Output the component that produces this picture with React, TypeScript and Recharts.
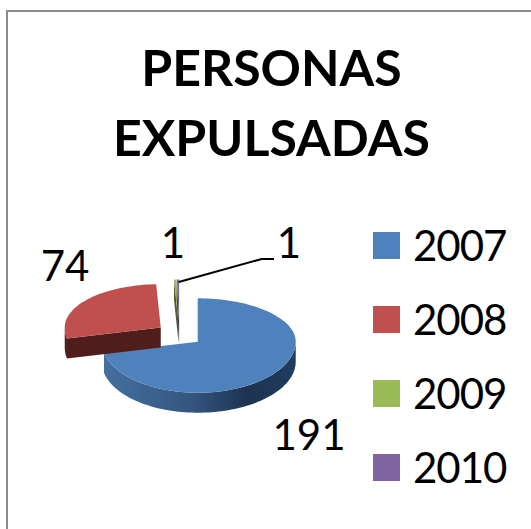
import { PieChart, Pie, Legend } from "recharts";

const years = ["2007", "2008", "2009", "2010"];
const persons = [191, 74, 1, 1];
const colors = ["#4f81bd", "#c0504d", "#9bbb59", "#8064a2"];
const sideColors = ["url(#blueWall)", "#4f1e1c", "#4e5d2c", "#40315a"];

const data = years.map((year, i) => ({ name: year, value: persons[i], fill: colors[i], side: sideColors[i] }));

const WIDTH = 531;
const HEIGHT = 529;
const FONT = "Lato, Carlito, sans-serif";

// fake 3D: the pie is squashed, so back and front radii differ a bit
const BACK_RY = 43.4;
const FRONT_RY = 51;
const SKEW_X = 1;
const DEPTH = 20;
const EXPLODE = 23.5;
const SQUASH = 0.49;

const labelSpots = [
  { x: 309, y: 450 },
  { x: 65, y: 281 },
  { x: 173, y: 258 },
  { x: 289, y: 258 },
];

const rad = (d: number) => (d * Math.PI) / 180;

function rimPoint(ax: number, ay: number, rx: number, theta: number) {
  const s = Math.sin(rad(theta));
  const c = Math.cos(rad(theta));
  return {
    x: ax + rx * s + SKEW_X * s * s,
    y: ay - c * (c > 0 ? BACK_RY : FRONT_RY),
  };
}

function PieSlice(props: any) {
  const { cx, cy, outerRadius, startAngle, endAngle, fill, payload } = props;
  // recharts angles run counter-clockwise from 3 o'clock, here clockwise from 12
  const from = 90 - startAngle;
  const to = 90 - endAngle;
  const mid = rad((from + to) / 2);
  const ax = cx + EXPLODE * Math.sin(mid);
  const ay = cy - EXPLODE * SQUASH * Math.cos(mid);

  const rim = (a: number, b: number) => {
    const pts = [];
    const steps = Math.max(2, Math.ceil(Math.abs(b - a) / 2));
    for (let i = 0; i <= steps; i++) {
      pts.push(rimPoint(ax, ay, outerRadius, a + ((b - a) * i) / steps));
    }
    return pts;
  };
  const toPath = (pts: { x: number; y: number }[]) =>
    pts.map((p, i) => `${i ? "L" : "M"}${p.x.toFixed(2)},${p.y.toFixed(2)}`).join("") + "Z";

  const top = toPath([{ x: ax, y: ay }, ...rim(from, to)]);

  // outer wall only where the rim faces the viewer
  const wallFrom = Math.max(from, 90);
  const wallTo = Math.min(to, 270);
  let wall = null;
  if (wallTo > wallFrom) {
    const edge = rim(wallFrom, wallTo);
    const lower = [...edge].reverse().map((p) => ({ x: p.x, y: p.y + DEPTH }));
    wall = toPath([...edge, ...lower]);
  }

  // cut faces
  const faces: string[] = [];
  const apex = { x: ax, y: ay };
  const apexLow = { x: ax, y: ay + DEPTH };
  if (-Math.sin(rad(from)) > 0) {
    const p = rimPoint(ax, ay, outerRadius, from);
    faces.push(toPath([apex, p, { x: p.x, y: p.y + DEPTH }, apexLow]));
  }
  if (Math.sin(rad(to)) > 0) {
    const p = rimPoint(ax, ay, outerRadius, to);
    faces.push(toPath([apex, p, { x: p.x, y: p.y + DEPTH }, apexLow]));
  }

  return (
    <g>
      <defs>
        <linearGradient id="blueWall" x1="0" y1="0" x2="1" y2="0">
          <stop offset="0" stopColor="#44709f" />
          <stop offset="0.45" stopColor="#345680" />
          <stop offset="0.75" stopColor="#1d3350" />
          <stop offset="1" stopColor="#203c5e" />
        </linearGradient>
      </defs>
      {faces.map((d, i) => (
        <path key={i} d={d} fill={payload.side} />
      ))}
      {wall && <path d={wall} fill={payload.side} />}
      <path d={top} fill={fill} />
    </g>
  );
}

function PieLabel(props: any) {
  const { index, value } = props;
  const spot = labelSpots[index];
  return (
    <g>
      {index === 3 && (
        <polyline points="178.7,282 261.7,259 274,259" fill="none" stroke="#000" strokeWidth={2} />
      )}
      <text x={spot.x} y={spot.y} textAnchor="middle" fontFamily={FONT} fontSize={42} fill="#000">
        {value}
      </text>
    </g>
  );
}

function YearLegend({ payload }: any) {
  return (
    <div>
      {(payload || []).map((entry: any) => (
        <div key={entry.value} style={{ display: "flex", alignItems: "center", height: 74 }}>
          <span style={{ width: 27, height: 27, marginRight: 13, background: entry.color, display: "block" }} />
          <span style={{ fontFamily: FONT, fontSize: 42, letterSpacing: -1, lineHeight: "74px", color: "#000" }}>
            {entry.value}
          </span>
        </div>
      ))}
    </div>
  );
}

export default function App() {
  return (
    <div style={{ position: "absolute", left: 0, top: 0, width: WIDTH, height: HEIGHT, overflow: "hidden", background: "#fff" }}>
      <div
        style={{
          position: "absolute",
          left: 6,
          top: 10,
          right: 0,
          bottom: 0,
          borderLeft: "2px solid #8c8c8c",
          borderTop: "2px solid #8c8c8c",
        }}
      />
      <div
        style={{
          position: "absolute",
          left: 12,
          width: 519,
          top: 32,
          textAlign: "center",
          fontFamily: FONT,
          fontWeight: 700,
          fontSize: 50,
          lineHeight: "70px",
          color: "#000",
        }}
      >
        PERSONAS
        <br />
        EXPULSADAS
      </div>
      <PieChart
        width={WIDTH}
        height={HEIGHT}
        margin={{ top: 0, right: 0, bottom: 0, left: 0 }}
        style={{ position: "absolute", left: 0, top: 0 }}
      >
        <Pie
          data={data}
          dataKey="value"
          nameKey="name"
          cx={179.4}
          cy={334.5}
          outerRadius={97}
          startAngle={90}
          endAngle={-270}
          stroke="none"
          shape={PieSlice}
          label={PieLabel}
          labelLine={false}
          isAnimationActive={false}
        />
        <Legend
          layout="vertical"
          content={YearLegend}
          wrapperStyle={{ left: 373, top: 208, width: 158, bottom: "auto" }}
        />
      </PieChart>
    </div>
  );
}
